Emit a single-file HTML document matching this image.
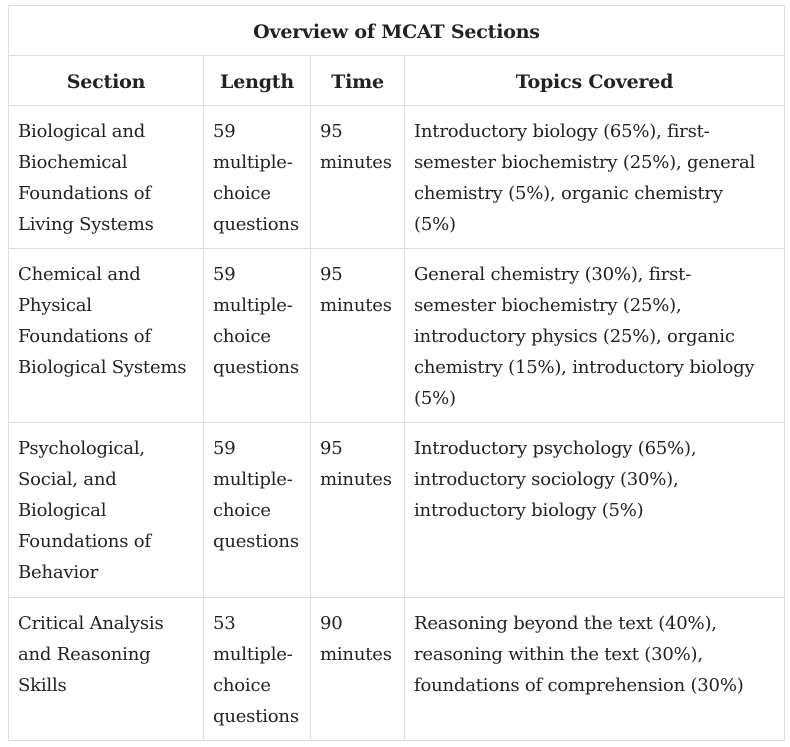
<!DOCTYPE html>
<html><head><meta charset="utf-8"><style>
body{margin:0;width:790px;height:747px;background:#fff;position:relative;overflow:hidden;font-family:"DejaVu Serif","Liberation Serif",serif;color:#222;}
.c{position:absolute;box-sizing:border-box;border:1px solid #ddd;font-size:18px;line-height:31px;padding:10px 9px;white-space:nowrap;letter-spacing:-0.2px}
.h{font-weight:bold;font-size:19px;text-align:center;display:flex;align-items:center;justify-content:center;padding:3px 0 0 0}
</style></head><body>
<div>
<div class="c h" style="left:8px;top:5px;width:777px;height:51px">Overview of MCAT Sections</div>
<div class="c h" style="left:8px;top:55px;width:196px;height:51px">Section</div>
<div class="c h" style="left:203px;top:55px;width:108px;height:51px">Length</div>
<div class="c h" style="left:310px;top:55px;width:95px;height:51px">Time</div>
<div class="c h" style="left:404px;top:55px;width:381px;height:51px">Topics Covered</div>

<div class="c" style="left:8px;top:105px;width:196px;height:144px">Biological and<br>Biochemical<br>Foundations of<br>Living Systems</div>
<div class="c" style="left:203px;top:105px;width:108px;height:144px">59<br>multiple-<br>choice<br>questions</div>
<div class="c" style="left:310px;top:105px;width:95px;height:144px">95<br>minutes</div>
<div class="c" style="left:404px;top:105px;width:381px;height:144px">Introductory biology (65%), first-<br>semester biochemistry (25%), general<br>chemistry (5%), organic chemistry<br>(5%)</div>

<div class="c" style="left:8px;top:248px;width:196px;height:175px">Chemical and<br>Physical<br>Foundations of<br>Biological Systems</div>
<div class="c" style="left:203px;top:248px;width:108px;height:175px">59<br>multiple-<br>choice<br>questions</div>
<div class="c" style="left:310px;top:248px;width:95px;height:175px">95<br>minutes</div>
<div class="c" style="left:404px;top:248px;width:381px;height:175px">General chemistry (30%), first-<br>semester biochemistry (25%),<br>introductory physics (25%), organic<br>chemistry (15%), introductory biology<br>(5%)</div>

<div class="c" style="left:8px;top:422px;width:196px;height:176px">Psychological,<br>Social, and<br>Biological<br>Foundations of<br>Behavior</div>
<div class="c" style="left:203px;top:422px;width:108px;height:176px">59<br>multiple-<br>choice<br>questions</div>
<div class="c" style="left:310px;top:422px;width:95px;height:176px">95<br>minutes</div>
<div class="c" style="left:404px;top:422px;width:381px;height:176px">Introductory psychology (65%),<br>introductory sociology (30%),<br>introductory biology (5%)</div>

<div class="c" style="left:8px;top:597px;width:196px;height:144px">Critical Analysis<br>and Reasoning<br>Skills</div>
<div class="c" style="left:203px;top:597px;width:108px;height:144px">53<br>multiple-<br>choice<br>questions</div>
<div class="c" style="left:310px;top:597px;width:95px;height:144px">90<br>minutes</div>
<div class="c" style="left:404px;top:597px;width:381px;height:144px">Reasoning beyond the text (40%),<br>reasoning within the text (30%),<br>foundations of comprehension (30%)</div>
</div>
</body></html>
